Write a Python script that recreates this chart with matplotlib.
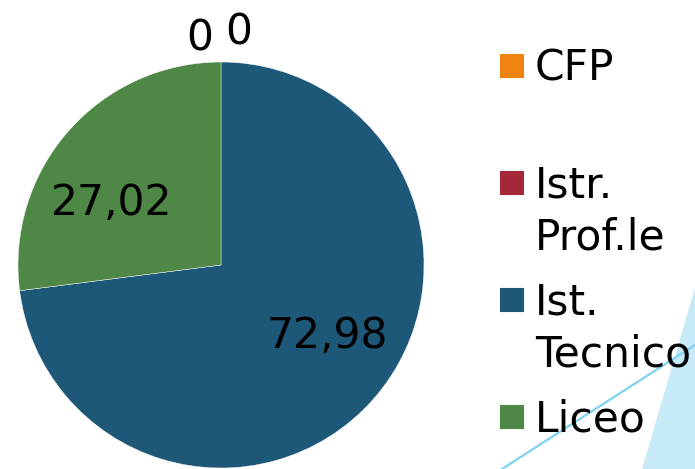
import matplotlib.pyplot as plt
from matplotlib.patches import Rectangle, Polygon
from matplotlib.lines import Line2D

# dati
categorie = ["CFP", "Istr.\nProf.le", "Ist.\nTecnico", "Liceo"]
valori = [0, 0, 72.98, 27.02]
colori = ["#F0820F", "#A32838", "#1E5879", "#4F8746"]

W, H = 695, 469
FS = 30.5


def fx(x):
    return x / W


def fy(y):
    return 1 - y / H


def formato(p):
    # formato italiano, zero senza decimali
    if p < 0.005:
        return "0"
    return f"{p:.2f}".replace(".", ",")


fig = plt.figure(figsize=(W / 100, H / 100), dpi=100)
fig.patch.set_facecolor("white")

# decorazione di sfondo (triangolo + linea azzurra)
fig.add_artist(Polygon([(fx(642), fy(469)), (fx(695), fy(288)), (fx(695), fy(469))],
                       closed=True, transform=fig.transFigure,
                       facecolor="#C6EAF8", edgecolor="none", zorder=-2))
fig.add_artist(Line2D([fx(502), fx(695)], [fy(469), fy(345)], transform=fig.transFigure,
                      color="#80D2F0", lw=1.6, zorder=-1))

# torta: centro (221, 265) px, raggio 203 px
cx, cy, r = 221, 265, 203
lim = 1.02
ax = fig.add_axes([fx(cx - r * lim), fy(cy + r * lim), 2 * r * lim / W, 2 * r * lim / H])

wedges, testi, autotesti = ax.pie(
    valori, colors=colori, startangle=90, counterclock=False, radius=1,
    autopct=formato,
    wedgeprops=dict(edgecolor="white", linewidth=0.3),
    textprops=dict(fontsize=FS, color="black"))
ax.set_xlim(-lim, lim)
ax.set_ylim(-lim, lim)
ax.set_aspect("equal")

# posizioni etichette (baseline, in unità del raggio)
pos_etichette = [(-0.103, 1.059), (0.089, 1.084), (0.522, -0.409), (-0.539, 0.246)]
for t, (x, y) in zip(autotesti, pos_etichette):
    t.set_position((x, y))
    t.set_ha("center")
    t.set_va("baseline")
    t.set_clip_on(False)

# legenda manuale
for i, (nome, col) in enumerate(zip(categorie, colori)):
    yc = 65.5 + 117 * i
    fig.add_artist(Rectangle((fx(500), fy(yc + 11.5)), 23 / W, 23 / H,
                             transform=fig.transFigure, facecolor=col,
                             edgecolor=col, lw=0.8))
    for k, riga in enumerate(nome.split("\n")):
        fig.text(fx(535), fy(yc + 15 + 52 * k), riga, fontsize=FS,
                 ha="left", va="baseline", color="black")

fig.savefig("out.png", dpi=100)
